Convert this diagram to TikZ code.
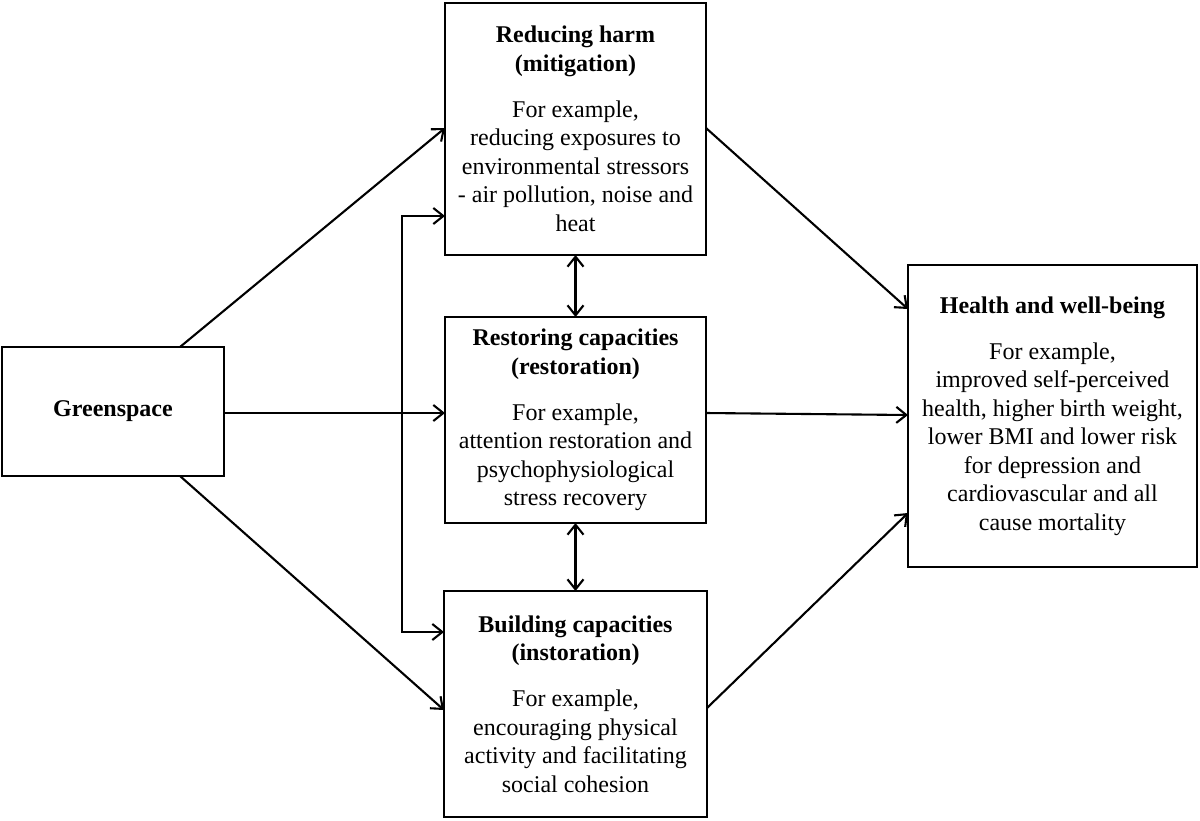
\documentclass[tikz,border=0pt]{standalone}
\usepackage{fontspec}
\setmainfont{Liberation Serif}
\usetikzlibrary{arrows.meta,calc}
\begin{document}
\begin{tikzpicture}[x=1pt,y=-1pt,
  box/.style={draw, line width=2.3pt, inner sep=0pt, outer sep=0pt, align=center,
    font=\fontsize{24}{28.5}\selectfont},
  arr/.style={line width=2.1pt, -{Straight Barb[length=10pt,width=16pt]}},
  darr/.style={line width=2.1pt, {Straight Barb[length=10pt,width=16pt]}-{Straight Barb[length=10pt,width=16pt]}}]
\useasboundingbox[fill=white] (0,0) rectangle (1200,820);

\node[box, minimum width=222, minimum height=129] (gs) at (113,411.5) {\bfseries Greenspace};

\node[box, minimum width=261, minimum height=252] (harm) at (575.5,129)
  {\textbf{Reducing harm}\\\textbf{(mitigation)}\\[17.5pt]
   For example,\\reducing exposures to\\environmental stressors\\- air pollution, noise and\\heat};

\node[box, minimum width=261, minimum height=206] (restore) at (575.5,420)
  {\textbf{Restoring capacities}\\\textbf{(restoration)}\\[17.5pt]
   For example,\\attention restoration and\\psychophysiological\\stress recovery};

\node[box, minimum width=263, minimum height=226] (build) at (575.5,704)
  {\textbf{Building capacities}\\\textbf{(instoration)}\\[17.5pt]
   For example,\\encouraging physical\\activity and facilitating\\social cohesion};

\node[box, minimum width=289, minimum height=302] (health) at (1052.5,416)
  {\textbf{Health and well-being}\\[17.5pt]
   For example,\\improved self-perceived\\health, higher birth weight,\\lower BMI and lower risk\\for depression and\\cardiovascular and all\\cause mortality};

% Greenspace to mechanisms
\draw[arr] ([xshift=67pt]gs.north) -- (harm.west |- 0,128);
\draw[arr] (gs.east |- 0,413) -- (restore.west |- 0,413);
\draw[arr] ([xshift=67pt]gs.south) -- (build.west |- 0,710);

% bracket
\coordinate (bt) at (402,216);
\coordinate (bb) at (402,632);
\draw[darr] (harm.west |- bt) -- (bt) -- (bb) -- (build.west |- bb);

% between mechanisms
\draw[darr] (harm.south) -- (restore.north);
\draw[darr] (restore.south) -- (build.north);

% mechanisms to health
\draw[arr] (harm.east |- 0,128) -- (health.west |- 0,309);
\draw[arr] (restore.east |- 0,413) -- (health.west |- 0,415);
\draw[arr] (build.east |- 0,708) -- (health.west |- 0,513);
\end{tikzpicture}
\end{document}
